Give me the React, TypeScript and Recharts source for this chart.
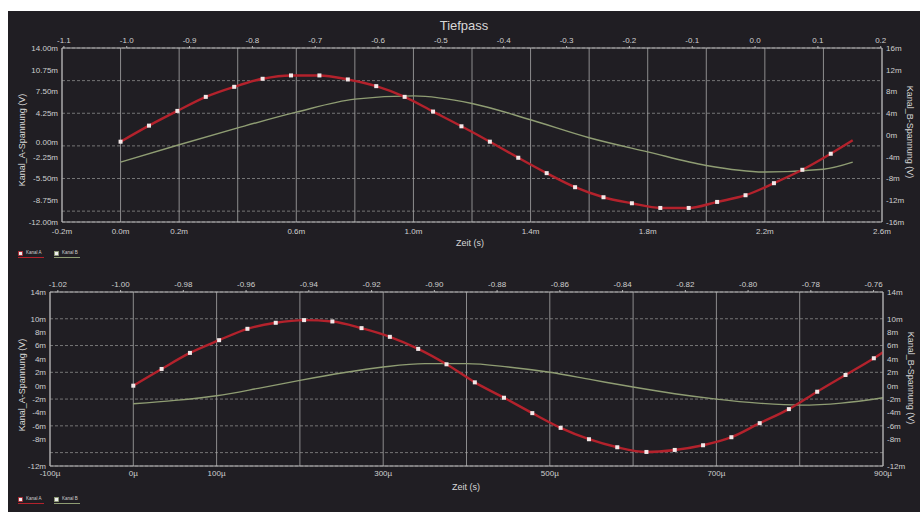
import React from 'react'
import { LineChart, Line, XAxis, YAxis, CartesianGrid, Legend, Label } from 'recharts'

// Oberes Diagramm (Zeit in ms)
const T_A_TOP = [0, 0.097, 0.194, 0.291, 0.388, 0.485, 0.582, 0.679, 0.776, 0.873, 0.97, 1.067, 1.164, 1.261, 1.358, 1.455, 1.552, 1.649, 1.746, 1.843, 1.94, 2.037, 2.134, 2.231, 2.328, 2.425, 2.5]
const KANAL_A_TOP = [0, 2.4, 4.6, 6.7, 8.2, 9.4, 9.9, 9.9, 9.3, 8.3, 6.7, 4.5, 2.3, 0, -2.4, -4.7, -6.8, -8.3, -9.2, -9.9, -9.9, -9.0, -8.0, -6.2, -4.2, -1.8, 0.2]
const T_B_TOP = [0, 0.2, 0.4, 0.6, 0.8, 1.0, 1.2, 1.4, 1.6, 1.8, 2.0, 2.2, 2.4, 2.5]
const KANAL_B_TOP = [-5.0, -1.8, 1.3, 4.2, 6.6, 7.2, 5.8, 2.8, -0.5, -3.1, -5.6, -6.8, -6.3, -5.0]

const MS_TICKS = [-0.2, 0, 0.2, 0.4, 0.6, 0.8, 1.0, 1.2, 1.4, 1.6, 1.8, 2.0, 2.2, 2.4, 2.6]
const MS_LABELED = [-0.2, 0, 0.2, 0.6, 1.0, 1.4, 1.8, 2.2, 2.6]
const PHASE_TOP = [-1.1, -1.0, -0.9, -0.8, -0.7, -0.6, -0.5, -0.4, -0.3, -0.2, -0.1, 0, 0.1, 0.2]
const VA_TOP_TICKS = [14, 10.75, 7.5, 4.25, 0, -2.25, -5.5, -8.75, -12]
const VB_TOP_TICKS = [16, 12, 8, 4, 0, -4, -8, -12, -16]
const GRID_TOP = [-12, -10.375, -8.75, -7.125, -5.5, -3.875, -2.25, -0.625, 1, 2.625, 4.25, 5.875, 7.5, 9.125, 10.75, 12.375, 14]

// Unteres Diagramm (Zeit in µs)
const T_A_BOT = [0, 34, 68, 103, 137, 171, 205, 239, 274, 308, 342, 376, 410, 445, 479, 513, 547, 581, 616, 650, 684, 718, 752, 787, 821, 855, 889, 900]
const KANAL_A_BOT = [0, 2.5, 4.9, 6.8, 8.5, 9.4, 9.8, 9.6, 8.6, 7.3, 5.5, 3.2, 0.5, -1.8, -4.1, -6.3, -8.0, -9.2, -9.9, -9.6, -8.9, -7.7, -5.6, -3.5, -0.9, 1.6, 4.1, 5.0]
const T_B_BOT = [0, 50, 100, 150, 200, 250, 300, 350, 400, 450, 500, 550, 600, 650, 700, 750, 800, 850, 900]
const KANAL_B_BOT = [-2.7, -2.2, -1.5, -0.4, 0.8, 1.9, 2.8, 3.3, 3.3, 2.8, 2.0, 0.9, -0.2, -1.2, -2.0, -2.6, -2.9, -2.6, -1.8]

const US_TICKS = [-100, 0, 100, 200, 300, 400, 500, 600, 700, 800, 900]
const US_LABELED = [-100, 0, 100, 300, 500, 700, 900]
const PHASE_BOT = [-1.02, -1.0, -0.98, -0.96, -0.94, -0.92, -0.9, -0.88, -0.86, -0.84, -0.82, -0.8, -0.78, -0.76]
const V_BOT_TICKS = [14, 10, 8, 6, 4, 2, 0, -2, -4, -6, -8, -12]
const GRID_BOT = [-12, -10, -8, -6, -4, -2, 0, 2, 4, 6, 8, 10, 12, 14]

const BG = '#201e23'
const RED = '#b3222c'
const GREEN = '#8f9d73'
const TXT = '#cfcfcf'
const AXIS = '#b8b8b8'
const FONT = '"Liberation Sans", Arial, sans-serif'

const zip = (ts: number[], vs: number[]) => ts.map((t, i) => ({ t, v: vs[i] }))
// carries the phase axis domain only, draws nothing
const phaseRows = (ps: number[]) => ps.map(p => ({ p, v: null }))

const tick = { fontSize: 8, fill: TXT, fontFamily: FONT }

function title(text: string, x: number, y: number, angle: number, size = 9) {
  return () => (
    <text x={x} y={y} transform={`rotate(${angle} ${x} ${y})`} textAnchor="middle" dominantBaseline="central"
      fontSize={size} fill="#d8d8d8" fontFamily={FONT}>{text}</text>
  )
}

function markers(last: number) {
  return (p: any) => {
    const { cx, cy, index } = p
    if (index === last || cx == null) return <g key={`m${index}`} />
    return <rect key={`m${index}`} x={cx - 2} y={cy - 2} width={4} height={4} fill="#f3e8e8" />
  }
}

function LegendBox(props: any) {
  const items = (props.payload || []).filter((it: any) => it.value === 'Kanal A' || it.value === 'Kanal B')
  return (
    <div style={{ display: 'flex', gap: 8 }}>
      {items.map((it: any) => (
        <svg key={it.value} width={28} height={11}>
          <rect x={0.5} y={3.5} width={4} height={4} fill="#eee" stroke={it.color} strokeWidth={0.8} />
          <line x1={0} x2={26} y1={9.5} y2={9.5} stroke={it.color} strokeWidth={1} />
          <text x={8} y={6} fontSize={4.5} fill={TXT} fontFamily={FONT}>{it.value}</text>
        </svg>
      ))}
    </div>
  )
}

const gridProps = { stroke: '#8c8c8c', strokeWidth: 0.8 }

function TopChart() {
  const a = zip(T_A_TOP, KANAL_A_TOP)
  const b = zip(T_B_TOP, KANAL_B_TOP)
  return (
    <LineChart width={912} height={250} margin={{ top: 0, right: 0, bottom: 0, left: 0 }}>
      <CartesianGrid xAxisId="bottom" yAxisId="grid" vertical={false} strokeDasharray="3 2" {...gridProps} />
      <CartesianGrid xAxisId="bottom" yAxisId="grid" horizontal={false} stroke="#a8a8a8" strokeWidth={0.8} />
      <XAxis xAxisId="bottom" type="number" dataKey="t" domain={[-0.2, 2.6]} ticks={MS_TICKS} allowDataOverflow
        tickFormatter={(v: number) => (MS_LABELED.some(l => Math.abs(l - v) < 1e-6) ? `${v.toFixed(1)}m` : '')}
        height={39} tick={tick} tickLine={false} tickSize={0} tickMargin={6} axisLine={{ stroke: AXIS }} interval={0}>
        <Label content={title('Zeit (s)', 462, 232, 0, 9)} />
      </XAxis>
      <XAxis xAxisId="top" orientation="top" type="number" dataKey="p" domain={[-1.103, 0.202]} ticks={PHASE_TOP}
        allowDataOverflow tickFormatter={(v: number) => v.toFixed(1)} height={37} tick={tick} tickSize={2}
        tickMargin={3} tickLine={{ stroke: AXIS }} axisLine={{ stroke: AXIS }} interval={0}>
        <Label content={title('Tiefpass', 456, 14, 0, 13)} />
      </XAxis>
      <YAxis yAxisId="grid" hide width={0} domain={[-12, 14]} ticks={GRID_TOP} allowDataOverflow />
      <YAxis yAxisId="left" domain={[-12, 14]} ticks={VA_TOP_TICKS} allowDataOverflow width={54}
        tickFormatter={(v: number) => `${v.toFixed(2)}m`} tick={tick} tickLine={false} tickSize={0} tickMargin={4}
        axisLine={{ stroke: AXIS }} interval={0}>
        <Label content={title('Kanal_A-Spannung (V)', 14, 129, -90)} />
      </YAxis>
      <YAxis yAxisId="right" orientation="right" domain={[-16, 16]} ticks={VB_TOP_TICKS} allowDataOverflow width={38}
        tickFormatter={(v: number) => `${v}m`} tick={tick} tickLine={false} tickSize={0} tickMargin={4}
        axisLine={{ stroke: AXIS }} interval={0}>
        <Label content={title('Kanal_B-Spannung (V)', 902, 121, 90)} />
      </YAxis>
      <Legend layout="horizontal" verticalAlign="middle" align="center" content={<LegendBox />}
        wrapperStyle={{ left: 10, top: 237, width: 90, height: 12 }} />
      <Line xAxisId="top" yAxisId="grid" data={phaseRows(PHASE_TOP)} dataKey="v" name="phase" legendType="none"
        stroke="none" dot={false} isAnimationActive={false} />
      <Line xAxisId="bottom" yAxisId="right" data={b} dataKey="v" name="Kanal B" type="monotone" stroke={GREEN}
        strokeWidth={1.4} dot={false} isAnimationActive={false} />
      <Line xAxisId="bottom" yAxisId="left" data={a} dataKey="v" name="Kanal A" type="monotone" stroke={RED}
        strokeWidth={2.4} dot={markers(a.length - 1)} isAnimationActive={false} />
    </LineChart>
  )
}

function BottomChart() {
  const a = zip(T_A_BOT, KANAL_A_BOT)
  const b = zip(T_B_BOT, KANAL_B_BOT)
  return (
    <LineChart width={912} height={252} margin={{ top: 0, right: 0, bottom: 0, left: 0 }}>
      <CartesianGrid xAxisId="bottom" yAxisId="grid" vertical={false} strokeDasharray="3 2" {...gridProps} />
      <CartesianGrid xAxisId="bottom" yAxisId="grid" horizontal={false} stroke="#a8a8a8" strokeWidth={0.8} />
      <XAxis xAxisId="bottom" type="number" dataKey="t" domain={[-100, 900]} ticks={US_TICKS} allowDataOverflow
        tickFormatter={(v: number) => (US_LABELED.includes(v) ? `${v}µ` : '')}
        height={46} tick={tick} tickLine={false} tickSize={0} tickMargin={4} axisLine={{ stroke: AXIS }} interval={0}>
        <Label content={title('Zeit (s)', 458, 227, 0, 9)} />
      </XAxis>
      <XAxis xAxisId="top" orientation="top" type="number" dataKey="p" domain={[-1.0225, -0.757]} ticks={PHASE_BOT}
        allowDataOverflow tickFormatter={(v: number) => v.toFixed(2)} height={32} tick={tick} tickSize={2}
        tickMargin={3} tickLine={{ stroke: AXIS }} axisLine={{ stroke: AXIS }} interval={0} />
      <YAxis yAxisId="grid" hide width={0} domain={[-12, 14]} ticks={GRID_BOT} allowDataOverflow />
      <YAxis yAxisId="left" domain={[-12, 14]} ticks={V_BOT_TICKS} allowDataOverflow width={42}
        tickFormatter={(v: number) => `${v}m`} tick={tick} tickLine={false} tickSize={0} tickMargin={4}
        axisLine={{ stroke: AXIS }} interval={0}>
        <Label content={title('Kanal_A-Spannung (V)', 14, 125, -90)} />
      </YAxis>
      <YAxis yAxisId="right" orientation="right" domain={[-12, 14]} ticks={V_BOT_TICKS} allowDataOverflow width={37}
        tickFormatter={(v: number) => `${v}m`} tick={tick} tickLine={false} tickSize={0} tickMargin={4}
        axisLine={{ stroke: AXIS }} interval={0}>
        <Label content={title('Kanal_B-Spannung (V)', 903, 118, 90)} />
      </YAxis>
      <Legend layout="horizontal" verticalAlign="middle" align="center" content={<LegendBox />}
        wrapperStyle={{ left: 10, top: 234, width: 90, height: 12 }} />
      <Line xAxisId="top" yAxisId="grid" data={phaseRows(PHASE_BOT)} dataKey="v" name="phase" legendType="none"
        stroke="none" dot={false} isAnimationActive={false} />
      <Line xAxisId="bottom" yAxisId="right" data={b} dataKey="v" name="Kanal B" type="monotone" stroke={GREEN}
        strokeWidth={1.4} dot={false} isAnimationActive={false} />
      <Line xAxisId="bottom" yAxisId="left" data={a} dataKey="v" name="Kanal A" type="monotone" stroke={RED}
        strokeWidth={2.4} dot={markers(a.length - 1)} isAnimationActive={false} />
    </LineChart>
  )
}

export default function App() {
  return (
    <div style={{ position: 'absolute', left: 8, top: 11, width: 912, height: 501, background: BG, fontFamily: FONT }}>
      <div style={{ position: 'absolute', left: 0, top: 0 }}>
        <TopChart />
      </div>
      <div style={{ position: 'absolute', left: 0, top: 249 }}>
        <BottomChart />
      </div>
    </div>
  )
}
